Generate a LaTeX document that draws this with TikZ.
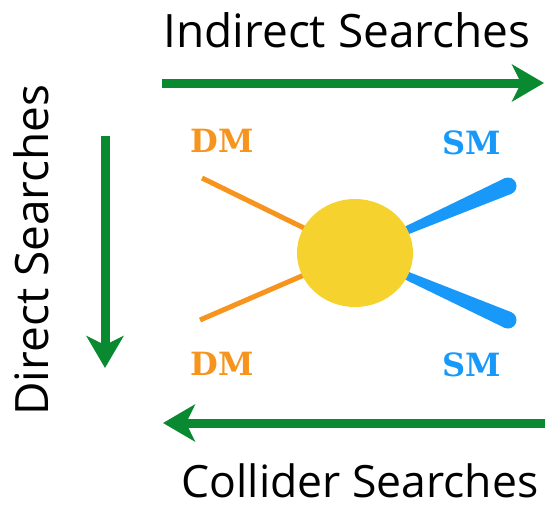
\documentclass[tikz,border=0pt]{standalone}
\usepackage{fontspec}
\setmainfont{Open Sans}
\newfontfamily\labfont{DejaVu Serif}
\usetikzlibrary{arrows.meta,calc,shapes.geometric}
\definecolor{arrowgreen}{RGB}{10,138,48}
\definecolor{dmorange}{RGB}{247,148,29}
\definecolor{smblue}{RGB}{24,153,249}
\definecolor{blobyellow}{RGB}{245,210,45}
\begin{document}
\begin{tikzpicture}[x=1pt,y=-1pt,
  bigarrow/.style={draw=arrowgreen,line width=9pt,-{Stealth[length=32pt,width=37pt,inset=9pt]},arrowgreen},
  searchtext/.style={font=\fontsize{46}{50}\selectfont,inner sep=0pt},
  dmlab/.style={font=\labfont\bfseries\fontsize{32}{36}\selectfont,text=dmorange,inner sep=0pt},
  smlab/.style={font=\labfont\bfseries\fontsize{32}{36}\selectfont,text=smblue,inner sep=0pt},
  dmline/.style={draw=dmorange,line width=5pt}]
\useasboundingbox (0,0) rectangle (545,509);
% search labels
\node[searchtext,anchor=base] (ind) at (347,47) {Indirect Searches};
\node[searchtext,font=\fontsize{44.5}{48}\selectfont,anchor=base] (col) at (360,497) {Collider Searches};
\node[searchtext,anchor=base,rotate=90] (dir) at (48,250) {Direct Searches};
% arrows
\coordinate (t1) at (162,83); \coordinate (t2) at (544,83);
\coordinate (v1) at (105,136); \coordinate (v2) at (105,368);
\coordinate (b1) at (545,423); \coordinate (b2) at (163,423);
\draw[bigarrow] (t1) -- (t2);
\draw[bigarrow] (v1) -- (v2);
\draw[bigarrow] (b1) -- (b2);
% diagram
\coordinate (c) at (355,253);
\coordinate (dm1) at (202,178);
\coordinate (dm2) at (200,320);
\coordinate (sm1) at (508,186);
\coordinate (sm2) at (508,320);
\draw[dmline] (dm1) -- (c);
\draw[dmline] (dm2) -- (c);
\fill[smblue] ($(c)!2pt!90:(sm1)$) -- ($(sm1)!8.5pt!-90:(c)$) -- ($(sm1)!8.5pt!90:(c)$) -- ($(c)!2pt!-90:(sm1)$) -- cycle;
\fill[smblue] (sm1) circle[radius=8.5];
\fill[smblue] ($(c)!2pt!90:(sm2)$) -- ($(sm2)!8.5pt!-90:(c)$) -- ($(sm2)!8.5pt!90:(c)$) -- ($(c)!2pt!-90:(sm2)$) -- cycle;
\fill[smblue] (sm2) circle[radius=8.5];
\node[ellipse,fill=blobyellow,minimum width=116pt,minimum height=108pt,inner sep=0pt] (blob) at (c) {};
\node[dmlab] (dma) at (222,141) {DM};
\node[dmlab] (dmb) at (222,364) {DM};
\node[smlab] (sma) at (472,143) {SM};
\node[smlab] (smb) at (472,365) {SM};
\end{tikzpicture}
\end{document}
